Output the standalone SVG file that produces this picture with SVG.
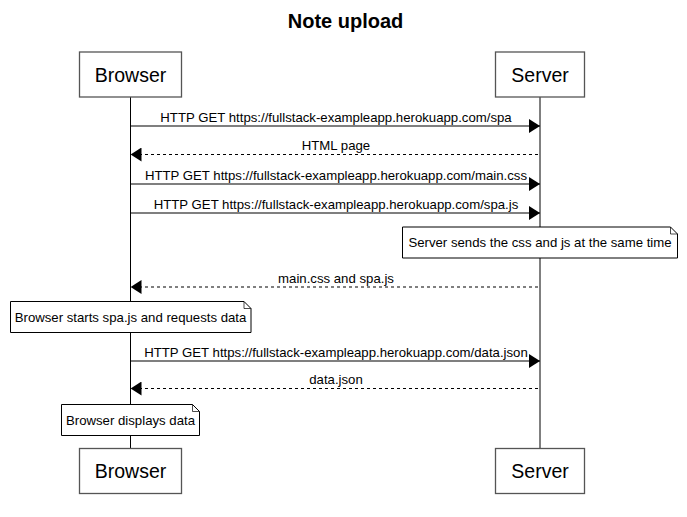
<svg xmlns="http://www.w3.org/2000/svg" width="687" height="517" viewBox="0 0 687 517">
<style>
text{font-family:"Liberation Sans",Arial,sans-serif;fill:#000}
.title{font-size:20px;font-weight:bold;text-anchor:middle}
.actor rect{fill:#fff;stroke:#555;stroke-width:1.3}
.actor text{font-size:19.5px;text-anchor:middle}
.life{stroke:#000;stroke-width:1}
.msg{stroke:#000;stroke-width:1.1;fill:none}
.dash{stroke-dasharray:3,3}
.mt{font-size:13.2px;text-anchor:middle}
.note path.b{fill:#fff;stroke:#000;stroke-width:1}
.note path.f{fill:none;stroke:#000;stroke-width:0.7}
.note text{font-size:13.2px;text-anchor:middle}
</style>
<defs>
<marker id="ah" viewBox="0 0 11 14" refX="11" refY="7" markerWidth="11" markerHeight="14" markerUnits="userSpaceOnUse" orient="auto">
<path d="M0,0 L11,7 L0,14 Z" fill="#000"/>
</marker>
</defs>
<rect width="687" height="517" fill="#fff"/>
<text class="title" x="345.5" y="28">Note upload</text>
<g id="lifelines">
<line class="life" x1="130.5" y1="97" x2="130.5" y2="448.5"/>
<line class="life" x1="540" y1="97" x2="540" y2="448.5"/>
</g>
<g id="browser-top" class="actor"><rect x="79.5" y="52" width="102" height="45"/><text x="130.5" y="81.5">Browser</text></g>
<g id="server-top" class="actor"><rect x="495.5" y="52" width="89" height="45"/><text x="540" y="81.5">Server</text></g>
<g id="browser-bottom" class="actor"><rect x="79.5" y="448.5" width="102" height="45"/><text x="130.5" y="478">Browser</text></g>
<g id="server-bottom" class="actor"><rect x="495.5" y="448.5" width="89" height="45"/><text x="540" y="478">Server</text></g>
<g id="connectors">
<line class="msg" x1="130.5" y1="126" x2="540" y2="126" marker-end="url(#ah)"/>
<text class="mt" x="336" y="121.5">HTTP GET https://fullstack-exampleapp.herokuapp.com/spa</text>
<line class="msg dash" x1="538" y1="154.5" x2="130.5" y2="154.5" marker-end="url(#ah)"/>
<text class="mt" x="336" y="150">HTML page</text>
<line class="msg" x1="130.5" y1="184" x2="540" y2="184" marker-end="url(#ah)"/>
<text class="mt" x="336" y="179.5">HTTP GET https://fullstack-exampleapp.herokuapp.com/main.css</text>
<line class="msg" x1="130.5" y1="213" x2="540" y2="213" marker-end="url(#ah)"/>
<text class="mt" x="336" y="208.5">HTTP GET https://fullstack-exampleapp.herokuapp.com/spa.js</text>
<line class="msg dash" x1="538" y1="287" x2="130.5" y2="287" marker-end="url(#ah)"/>
<text class="mt" x="336" y="282.5">main.css and spa.js</text>
<line class="msg" x1="130.5" y1="361" x2="540" y2="361" marker-end="url(#ah)"/>
<text class="mt" x="336" y="356.5">HTTP GET https://fullstack-exampleapp.herokuapp.com/data.json</text>
<line class="msg dash" x1="538" y1="388.5" x2="130.5" y2="388.5" marker-end="url(#ah)"/>
<text class="mt" x="336" y="384">data.json</text>
</g>
<g id="note-server" class="note">
<path class="b" d="M402.5,227 H670.5 L677.5,234 V258 H402.5 Z"/>
<path class="f" d="M670.5,227 V234 H677.5"/>
<text x="540" y="247">Server sends the css and js at the same time</text>
</g>
<g id="note-browser-start" class="note">
<path class="b" d="M10.5,301.5 H244 L251,308.5 V332.5 H10.5 Z"/>
<path class="f" d="M244,301.5 V308.5 H251"/>
<text x="130.5" y="321.5">Browser starts spa.js and requests data</text>
</g>
<g id="note-browser-display" class="note">
<path class="b" d="M61.5,404.5 H192.5 L199.5,411.5 V435.5 H61.5 Z"/>
<path class="f" d="M192.5,404.5 V411.5 H199.5"/>
<text x="130.5" y="424.5">Browser displays data</text>
</g>
</svg>
